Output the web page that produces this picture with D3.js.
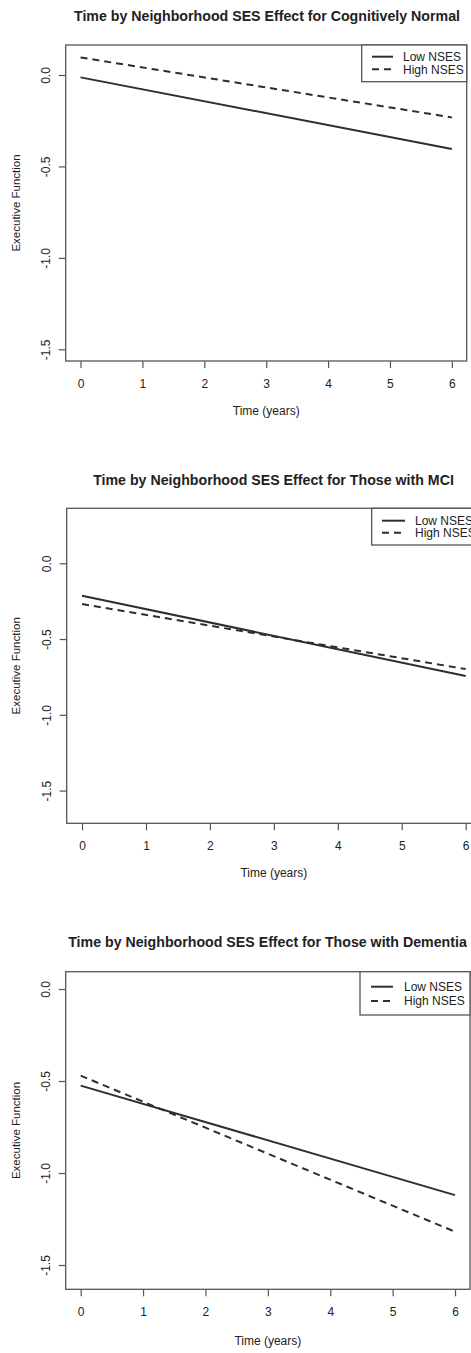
<!DOCTYPE html>
<html>
<head>
<meta charset="utf-8">
<script src="https://cdn.jsdelivr.net/npm/d3@7"></script>
<style>
  html, body { margin: 0; padding: 0; background: #fff; }
  svg { display: block; font-family: "Liberation Sans", Arial, sans-serif; }
</style>
</head>
<body>
<svg id="chart" width="471" height="1353"></svg>
<script>
// ---------- DATA ----------
const years = [0, 6];
const titles = [
  "Time by Neighborhood SES Effect for Cognitively Normal",
  "Time by Neighborhood SES Effect for Those with MCI",
  "Time by Neighborhood SES Effect for Those with Dementia"
];
const seriesNames = ["Low NSES", "High NSES"];
const lowNSES_CN = [-0.013, -0.405];
const highNSES_CN = [0.096, -0.232];
const lowNSES_MCI = [-0.214, -0.744];
const highNSES_MCI = [-0.269, -0.698];
const lowNSES_Dem = [-0.525, -1.120];
const highNSES_Dem = [-0.471, -1.319];
const xTicks = [0, 1, 2, 3, 4, 5, 6];
const yTicks = [0, -0.5, -1.0, -1.5];
const yTickLabels = ["0.0", "-0.5", "-1.0", "-1.5"];
const xAxisTitle = "Time (years)";
const yAxisTitle = "Executive Function";

// ---------- LAYOUT (positions/styles only) ----------
const panels = [
  { title: titles[0], low: lowNSES_CN, high: highNSES_CN,
    left: 65.7, right: 466.7, top: 45, bottom: 361,
    xDom: [-0.24, 6.24], yDom: [-1.564, 0.164],
    titleY: 20.5, titleX: 267, xTitleY: 415,
    leg: { x0: 361.7, x1: 466.7, y1: 81.7, rows: [56.7, 69.3], lx0: 372, lx1: 393, tx: 403 } },
  { title: titles[1], low: lowNSES_MCI, high: highNSES_MCI,
    left: 66.7, right: 481, top: 508.3, bottom: 823.3,
    xDom: [-0.24, 6.24], yDom: [-1.716, 0.363],
    titleY: 484.5, titleX: 273.5, xTitleY: 877,
    leg: { x0: 371.7, x1: 490, y1: 545, rows: [520.7, 532.7], lx0: 382, lx1: 405, tx: 415 } },
  { title: titles[2], low: lowNSES_Dem, high: highNSES_Dem,
    left: 65.7, right: 470, top: 971.7, bottom: 1289.3,
    xDom: [-0.24, 6.24], yDom: [-1.632, 0.094],
    titleY: 947, titleX: 267.5, xTitleY: 1345,
    leg: { x0: 360, x1: 470, y1: 1015, rows: [986.7, 1001], lx0: 371, lx1: 393, tx: 404 } }
];

const textColor = "#222";
const boxColor = "#555";
const lineColor = "#2e2e2e";
const dash = "7,5";

const svg = d3.select("#chart");

panels.forEach(p => {
  const g = svg.append("g");
  const x = d3.scaleLinear().domain(p.xDom).range([p.left, p.right]);
  const y = d3.scaleLinear().domain(p.yDom).range([p.bottom, p.top]);

  // title
  g.append("text")
    .attr("x", p.titleX).attr("y", p.titleY)
    .attr("text-anchor", "middle")
    .attr("font-size", 14.2).attr("font-weight", "bold")
    .attr("fill", textColor)
    .text(p.title);

  // lines
  const line = d3.line().x((d, i) => x(years[i])).y(d => y(d));
  g.append("path").datum(p.low)
    .attr("d", line).attr("fill", "none")
    .attr("stroke", lineColor).attr("stroke-width", 2);
  g.append("path").datum(p.high)
    .attr("d", line).attr("fill", "none")
    .attr("stroke", lineColor).attr("stroke-width", 2)
    .attr("stroke-dasharray", dash);

  // x axis
  const xa = g.append("g")
    .attr("transform", `translate(0,${p.bottom})`)
    .call(d3.axisBottom(x).tickValues(xTicks).tickFormat(d3.format("d"))
      .tickSize(7).tickPadding(11));
  xa.select(".domain").remove();
  xa.selectAll("line").attr("stroke", boxColor).attr("stroke-width", 1.2);
  xa.selectAll("text").attr("font-size", 12).attr("fill", textColor)
    .attr("font-family", "Liberation Sans, Arial, sans-serif");

  // y axis
  const ya = g.append("g")
    .attr("transform", `translate(${p.left},0)`)
    .call(d3.axisLeft(y).tickValues(yTicks)
      .tickFormat((d, i) => yTickLabels[i]).tickSize(7));
  ya.select(".domain").remove();
  ya.selectAll("line").attr("stroke", boxColor).attr("stroke-width", 1.2);
  ya.selectAll("text")
    .attr("x", 0).attr("dy", 0)
    .attr("transform", "translate(-16,0) rotate(-90)")
    .attr("text-anchor", "middle")
    .attr("font-size", 12).attr("fill", textColor)
    .attr("font-family", "Liberation Sans, Arial, sans-serif");

  // box
  g.append("rect")
    .attr("x", p.left).attr("y", p.top)
    .attr("width", p.right - p.left).attr("height", p.bottom - p.top)
    .attr("fill", "none").attr("stroke", boxColor).attr("stroke-width", 1.3);

  // axis titles
  g.append("text")
    .attr("x", x(3)).attr("y", p.xTitleY)
    .attr("text-anchor", "middle").attr("font-size", 12)
    .attr("fill", textColor).text(xAxisTitle);
  g.append("text")
    .attr("transform", `translate(20,${(p.top + p.bottom) / 2}) rotate(-90)`)
    .attr("text-anchor", "middle").attr("font-size", 11.5)
    .attr("fill", textColor).text(yAxisTitle);

  // legend
  const L = p.leg;
  g.append("rect")
    .attr("x", L.x0).attr("y", p.top)
    .attr("width", L.x1 - L.x0).attr("height", L.y1 - p.top)
    .attr("fill", "#fff").attr("stroke", boxColor).attr("stroke-width", 1.3);
  seriesNames.forEach((name, i) => {
    g.append("line")
      .attr("x1", L.lx0).attr("x2", L.lx1)
      .attr("y1", L.rows[i]).attr("y2", L.rows[i])
      .attr("stroke", lineColor).attr("stroke-width", 2)
      .attr("stroke-dasharray", i === 1 ? dash : null);
    g.append("text")
      .attr("x", L.tx).attr("y", L.rows[i] + 4.2)
      .attr("font-size", 12).attr("fill", textColor)
      .text(name);
  });
});
</script>
</body>
</html>
